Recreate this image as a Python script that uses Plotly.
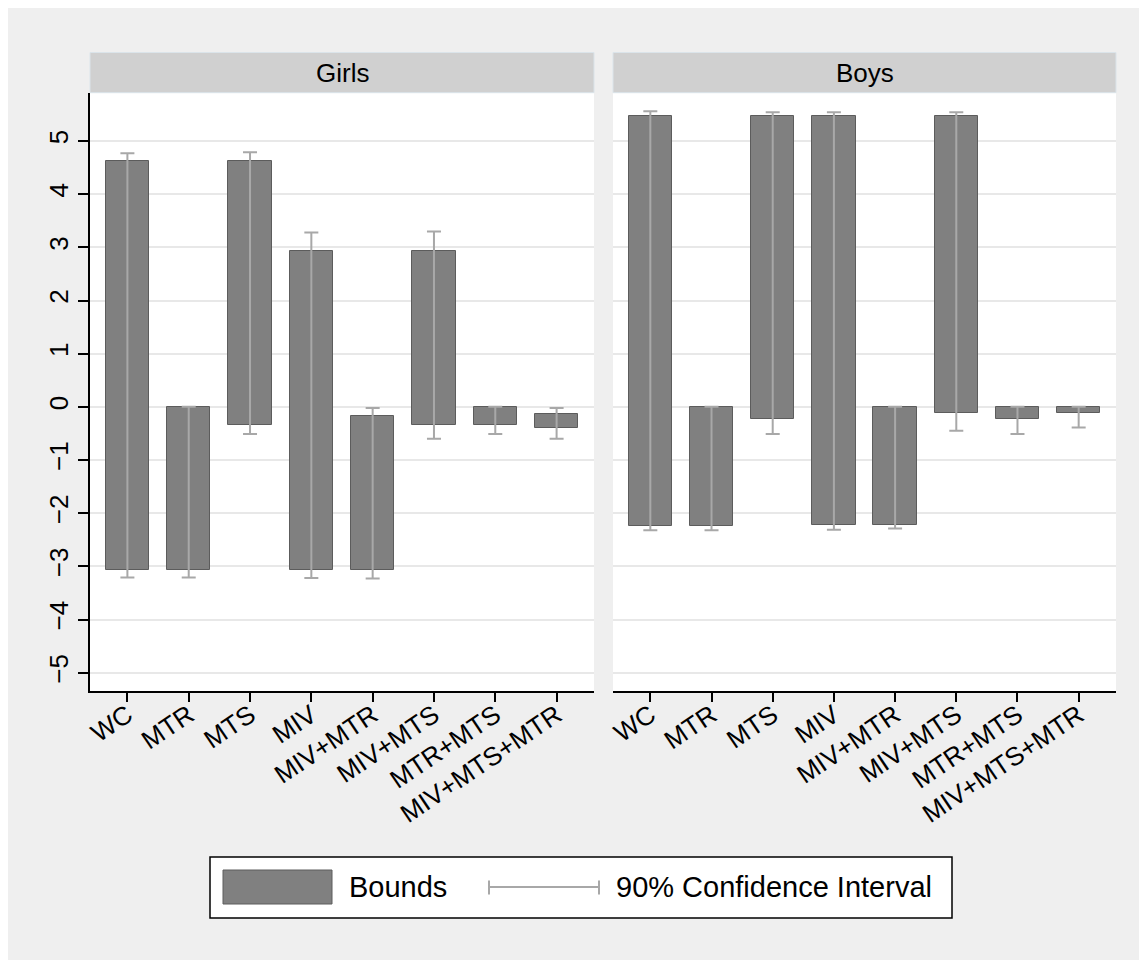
import plotly.graph_objects as go

# ---------------- data ----------------
categories = ["WC", "MTR", "MTS", "MIV", "MIV+MTR", "MIV+MTS", "MTR+MTS", "MIV+MTS+MTR"]
y_ticks = [-5, -4, -3, -2, -1, 0, 1, 2, 3, 4, 5]

girls_lower = [-3.07, -3.07, -0.35, -3.07, -3.07, -0.35, -0.35, -0.39]
girls_upper = [4.63, 0.00, 4.63, 2.93, -0.18, 2.93, 0.00, -0.14]
girls_ci_low = [-3.21, -3.21, -0.51, -3.22, -3.23, -0.60, -0.51, -0.60]
girls_ci_high = [4.77, 0.00, 4.79, 3.28, -0.02, 3.30, 0.00, -0.02]

boys_lower = [-2.24, -2.24, -0.23, -2.22, -2.22, -0.12, -0.23, -0.12]
boys_upper = [5.47, 0.00, 5.47, 5.47, 0.00, 5.47, 0.00, 0.00]
boys_ci_low = [-2.32, -2.32, -0.51, -2.31, -2.29, -0.45, -0.51, -0.39]
boys_ci_high = [5.56, 0.00, 5.54, 5.54, 0.00, 5.54, 0.00, 0.00]

panel_titles = ["Girls", "Boys"]
legend_labels = ["Bounds", "90% Confidence Interval"]

# ---------------- style ----------------
FONT = "Liberation Sans, Arial, Helvetica, sans-serif"
OFF = 8  # page body margin
W, H = 1147 - OFF, 960 - OFF
ML, MR, MT, MB = 82, 31, 85, 269
PW, PH = W - ML - MR, H - MT - MB
BAR_FILL = "#808080"
BAR_LINE = "#5c5c5c"
CI_COLOR = "#a8a8a8"
GRID = "#e8e8e8"
BG = "#efefef"


def px(x):  # screenshot x -> paper
    return (x - OFF - ML) / PW


def py(y):  # screenshot y -> paper
    return (H - MB - (y - OFF)) / PH


dom_girls = [0, px(594)]
dom_boys = [px(613), 1]

fig = go.Figure()

panels = [
    (girls_lower, girls_upper, girls_ci_low, girls_ci_high, "x", "y"),
    (boys_lower, boys_upper, boys_ci_low, boys_ci_high, "x2", "y2"),
]
for lo, up, cl, ch, xa, ya in panels:
    fig.add_trace(go.Bar(
        x=categories, y=[u - l for u, l in zip(up, lo)], base=lo,
        width=0.71, marker=dict(color=BAR_FILL, line=dict(color=BAR_LINE, width=1)),
        xaxis=xa, yaxis=ya, showlegend=False, name=legend_labels[0],
    ))
    fig.add_trace(go.Scatter(
        x=categories, y=[(a + b) / 2 for a, b in zip(cl, ch)],
        mode="markers", marker=dict(size=1, color="rgba(0,0,0,0)"),
        error_y=dict(type="data", symmetric=True,
                     array=[(b - a) / 2 for a, b in zip(cl, ch)],
                     color=CI_COLOR, thickness=2, width=7),
        xaxis=xa, yaxis=ya, showlegend=False, name=legend_labels[1],
    ))

xaxis_common = dict(
    type="category", categoryorder="array", categoryarray=categories,
    range=[-0.61, 7.61], tickangle=-34, ticks="outside", ticklen=9,
    tickwidth=1.5, tickcolor="black", showline=True, linecolor="black",
    linewidth=1.5, showgrid=False, zeroline=False, automargin=False,
    ticklabelstandoff=-12,
    tickfont=dict(family=FONT, size=26, color="black"),
)
yrange = [-5.344, 5.903]

fig.update_layout(
    width=W, height=H,
    margin=dict(l=ML, r=MR, t=MT, b=MB, pad=0),
    paper_bgcolor=BG, plot_bgcolor="white",
    template="none",
    font=dict(family=FONT, color="black"),
    showlegend=False,
    bargap=0,
    xaxis=dict(domain=dom_girls, anchor="y", **xaxis_common),
    xaxis2=dict(domain=dom_boys, anchor="y2", **xaxis_common),
    yaxis=dict(
        domain=[0, 1], anchor="x", range=yrange, tickvals=y_ticks,
        tickangle=-90, ticks="outside", ticklen=10, tickwidth=1.5,
        tickcolor="black", showline=True, linecolor="black", linewidth=1.5,
        showgrid=True, gridcolor=GRID, gridwidth=1.5, zeroline=False,
        automargin=False, tickfont=dict(family=FONT, size=26, color="black"),
    ),
    yaxis2=dict(
        domain=[0, 1], anchor="x2", range=yrange, tickvals=y_ticks,
        showticklabels=False, ticks="", showline=False,
        showgrid=True, gridcolor=GRID, gridwidth=1.5, zeroline=False,
        automargin=False,
    ),
)

shapes = []
annotations = []

# strips
for dom, title in zip([dom_girls, dom_boys], panel_titles):
    shapes.append(dict(type="rect", xref="paper", yref="paper",
                       x0=dom[0], x1=dom[1], y0=py(92.7), y1=py(52.5),
                       fillcolor="#d0d0d0", line=dict(color="#dbe4ea", width=1)))
    annotations.append(dict(xref="paper", yref="paper", x=(dom[0] + dom[1]) / 2,
                            y=py(73), text=title, showarrow=False,
                            xanchor="center", yanchor="middle",
                            font=dict(family=FONT, size=26, color="black")))

# legend (drawn manually)
shapes.append(dict(type="rect", xref="paper", yref="paper", x0=px(210), x1=px(952),
                   y0=py(918), y1=py(857), fillcolor="white",
                   line=dict(color="black", width=1.5)))
shapes.append(dict(type="rect", xref="paper", yref="paper", x0=px(223), x1=px(332),
                   y0=py(904), y1=py(870), fillcolor=BAR_FILL,
                   line=dict(color=BAR_LINE, width=1)))
shapes.append(dict(type="line", xref="paper", yref="paper", x0=px(489), x1=px(599),
                   y0=py(887), y1=py(887), line=dict(color=CI_COLOR, width=2)))
for xx in (489, 599):
    shapes.append(dict(type="line", xref="paper", yref="paper", x0=px(xx), x1=px(xx),
                       y0=py(880.5), y1=py(894.5), line=dict(color=CI_COLOR, width=2)))
annotations.append(dict(xref="paper", yref="paper", x=px(347), y=py(887),
                        text=legend_labels[0], showarrow=False, xanchor="left",
                        yanchor="middle", font=dict(family=FONT, size=29, color="black")))
annotations.append(dict(xref="paper", yref="paper", x=px(614), y=py(887),
                        text=legend_labels[1], showarrow=False, xanchor="left",
                        yanchor="middle", font=dict(family=FONT, size=29, color="black")))

fig.update_layout(shapes=shapes, annotations=annotations)

fig.write_html("out.html")
